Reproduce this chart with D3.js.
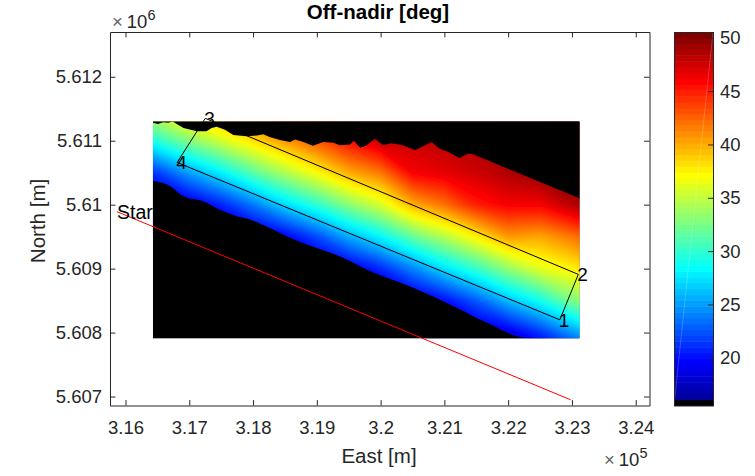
<!DOCTYPE html>
<html>
<head>
<meta charset="utf-8">
<script src="https://cdn.jsdelivr.net/npm/d3@7"></script>
<style>
  html, body { margin: 0; padding: 0; background: #fff; }
  svg { display: block; }
  text { font-family: "Liberation Sans", Arial, sans-serif; }
</style>
</head>
<body>
<div id="chart"></div>
<script>
// off-nadir angle [deg] sampled on a coarse east/north grid, rows run north to south
const gridEast = [3.160, 3.165, 3.170, 3.175, 3.180, 3.185, 3.190, 3.195, 3.200, 3.205, 3.210, 3.215, 3.220, 3.225, 3.230, 3.235];
const gridNorth = [5.6115, 5.6110, 5.6105, 5.6100, 5.6095, 5.6090, 5.6085, 5.6080, 5.6075];
const offNadir = [
  [33.8, 36.5, 39.5, 41.3, 44.0, 46.4, 48.7, 50.0, 50.5, 49.0, 49.0, 49.0, 50.0, 50.0, 50.5, 50.5],
  [26.3, 29.6, 32.7, 35.4, 38.0, 40.5, 42.8, 45.4, 47.8, 47.6, 48.2, 48.6, 50.0, 50.0, 50.5, 50.5],
  [18.9, 21.5, 24.9, 27.8, 31.2, 34.2, 36.9, 39.8, 41.6, 46.0, 46.6, 47.4, 48.5, 49.5, 50.5, 50.5],
  [16.5, 17.2, 18.3, 20.5, 23.5, 26.9, 29.7, 32.9, 35.6, 39.7, 41.9, 44.8, 46.0, 46.0, 48.2, 50.0],
  [16.0, 16.0, 16.0, 16.5, 17.6, 19.1, 21.9, 25.3, 28.1, 31.6, 34.4, 37.3, 40.5, 40.0, 41.6, 44.0],
  [16.0, 16.0, 16.0, 16.0, 16.0, 16.5, 17.3, 18.5, 20.7, 23.9, 27.2, 30.0, 33.2, 36.0, 37.3, 39.2],
  [16.0, 16.0, 16.0, 16.0, 16.0, 16.0, 16.0, 16.0, 16.5, 18.0, 19.7, 22.5, 25.9, 28.8, 32.4, 35.0],
  [16.0, 16.0, 16.0, 16.0, 16.0, 16.0, 16.0, 16.0, 16.0, 16.0, 16.4, 17.6, 18.5, 21.1, 24.5, 27.6],
  [16.0, 16.0, 16.0, 16.0, 16.0, 16.0, 16.0, 16.0, 16.0, 16.0, 16.0, 16.0, 16.0, 17.0, 18.0, 20.3]
];

// northern edge of valid data (terrain shadow), black above it
const topEdgeEast = [3.1643, 3.1651, 3.1659, 3.1667, 3.1674, 3.1679, 3.1691, 3.1712, 3.1727, 3.1735, 3.1743, 3.1756, 3.1769, 3.1790, 3.1806, 3.1816, 3.1826, 3.1842, 3.1858, 3.1866, 3.1879, 3.1894, 3.1910, 3.1926, 3.1936, 3.1952, 3.1958, 3.1968, 3.1977, 3.1991, 3.2004, 3.2017, 3.2035, 3.2054, 3.2080, 3.2093, 3.2103, 3.2124, 3.2137, 3.2145, 3.2312];
const topEdgeNorth = [5.61128, 5.61126, 5.61129, 5.61128, 5.61130, 5.61127, 5.61120, 5.61115, 5.61115, 5.61120, 5.61122, 5.61117, 5.61109, 5.61107, 5.61108, 5.61110, 5.61106, 5.61101, 5.61098, 5.61102, 5.61098, 5.61092, 5.61098, 5.61097, 5.61093, 5.61094, 5.61100, 5.61089, 5.61092, 5.61103, 5.61093, 5.61096, 5.61093, 5.61085, 5.61098, 5.61087, 5.61084, 5.61073, 5.61080, 5.61079, 5.61010];

// southern edge of valid data, black below it
const bottomEdgeEast = [3.1643, 3.1670, 3.1691, 3.1722, 3.1748, 3.1774, 3.1795, 3.1821, 3.1863, 3.1941, 3.1973, 3.2051, 3.2119, 3.2161, 3.2229, 3.2312];
const bottomEdgeNorth = [5.61037, 5.61029, 5.61013, 5.61005, 5.60992, 5.60982, 5.60977, 5.60966, 5.60946, 5.60917, 5.60901, 5.60870, 5.60839, 5.60818, 5.60792, 5.60791];

const imageEast = [3.1643, 3.2312];
const imageNorth = [5.60791, 5.61130];

// flight track and swath corners
const trackEast = [3.15867, 3.22978];
const trackNorth = [5.60989, 5.60695];
const swathEast = [3.2281, 3.2310, 3.1725, 3.1681, 3.2281];
const swathNorth = [5.60820, 5.60891, 5.61135, 5.61066, 5.60820];
const swathLabels = ["1", "2", "3", "4"];

const xTicks = [3.16, 3.17, 3.18, 3.19, 3.20, 3.21, 3.22, 3.23, 3.24];
const xTickLabels = ["3.16", "3.17", "3.18", "3.19", "3.2", "3.21", "3.22", "3.23", "3.24"];
const yTicks = [5.607, 5.608, 5.609, 5.610, 5.611, 5.612];
const yTickLabels = ["5.607", "5.608", "5.609", "5.61", "5.611", "5.612"];
const cTicks = [20, 25, 30, 35, 40, 45, 50];
const cRange = [15.53, 50.54];

const width = 755;
const height = 476;
const fontSize = 18.5;
const labelSize = 20.5;
const textColor = "#262626";

// MATLAB jet, k is the colormap level in 0..63, lowest level black
const jetChannel = t => Math.max(0, Math.min(1, 1.5 - Math.abs(4 * t - 1)));
const jetColor = k => {
  if (k < 1) return "#000";
  const t = (k + 1) / 64;
  return d3.rgb(
    255 * jetChannel(t - 0.5),
    255 * jetChannel(t - 0.25),
    255 * jetChannel(t)
  ).formatHex();
};
const jet = d3.range(64).map(jetColor);

const x = d3.scaleLinear().domain([3.15757, 3.24216]).range([110, 649.5]);
const y = d3.scaleLinear().domain([5.60686, 5.6127]).range([405.5, 32]);
const c = d3.scaleLinear().domain(cRange).range([405.5, 32]);

const svg = d3.select("#chart").append("svg")
    .attr("width", width)
    .attr("height", height);

svg.append("clipPath").attr("id", "image-clip")
  .append("rect")
    .attr("x", x(imageEast[0]))
    .attr("y", y(imageNorth[1]))
    .attr("width", x(imageEast[1]) - x(imageEast[0]))
    .attr("height", y(imageNorth[0]) - y(imageNorth[1]));

const defs = svg.append("defs");
defs.append("filter").attr("id", "soft-field")
    .attr("filterUnits", "userSpaceOnUse")
    .attr("x", 0).attr("y", 0).attr("width", width).attr("height", height)
  .append("feGaussianBlur").attr("stdDeviation", 2);
defs.append("filter").attr("id", "soft-edge")
    .attr("filterUnits", "userSpaceOnUse")
    .attr("x", 0).attr("y", 0).attr("width", width).attr("height", height)
  .append("feGaussianBlur").attr("stdDeviation", 0.7);

const image = svg.append("g").attr("clip-path", "url(#image-clip)");

image.append("rect")
    .attr("x", x(imageEast[0]))
    .attr("y", y(imageNorth[1]))
    .attr("width", x(imageEast[1]) - x(imageEast[0]))
    .attr("height", y(imageNorth[0]) - y(imageNorth[1]))
    .attr("fill", "#000");

// filled contours, several per colormap level so the gradient reads smooth
const levelStep = (cRange[1] - cRange[0]) / 64;
const levels = d3.range(1, 64, 1 / 3);
const contours = d3.contours()
    .size([gridEast.length, gridNorth.length])
    .thresholds(levels.map(k => cRange[0] + k * levelStep))(offNadir.flat());

const eastStep = gridEast[1] - gridEast[0];
const northStep = gridNorth[1] - gridNorth[0];
const gridPath = d3.geoPath(d3.geoTransform({
  point(cx, cy) {
    this.stream.point(
      x(gridEast[0] + (cx - 0.5) * eastStep),
      y(gridNorth[0] + (cy - 0.5) * northStep)
    );
  }
}));

image.append("g")
    .attr("filter", "url(#soft-field)")
  .selectAll("path")
  .data(contours)
  .join("path")
    .attr("d", gridPath)
    .attr("fill", (d, i) => jetColor(levels[i]));

// no data above and below the swath
const masks = image.append("g").attr("filter", "url(#soft-edge)");

masks.append("path")
    .attr("fill", "#000")
    .attr("d", d3.area()
      .x((d, i) => x(topEdgeEast[i]))
      .y0(y(imageNorth[1]) - 10)
      .y1(d => y(d))(topEdgeNorth));

masks.append("path")
    .attr("fill", "#000")
    .attr("d", d3.area()
      .x((d, i) => x(bottomEdgeEast[i]))
      .y0(y(imageNorth[0]) + 10)
      .y1(d => y(d))
      .curve(d3.curveMonotoneX)(bottomEdgeNorth));

const line = d3.line();

svg.append("path")
    .attr("fill", "none")
    .attr("stroke", "#000")
    .attr("stroke-width", 1)
    .attr("d", line(swathEast.map((d, i) => [x(d), y(swathNorth[i])])));

svg.append("path")
    .attr("fill", "none")
    .attr("stroke", "#f00")
    .attr("stroke-width", 1)
    .attr("d", line(trackEast.map((d, i) => [x(d), y(trackNorth[i])])));

svg.append("g")
    .attr("font-size", 19)
    .attr("fill", "#000")
  .selectAll("text")
  .data(swathLabels)
  .join("text")
    .attr("x", (d, i) => x(swathEast[i]) - 1)
    .attr("y", (d, i) => y(swathNorth[i]))
    .attr("dy", "0.36em")
    .text(d => d);

svg.append("text")
    .attr("x", x(trackEast[0]))
    .attr("y", y(trackNorth[0]))
    .attr("dy", "0.36em")
    .attr("font-size", 19.5)
    .attr("fill", "#000")
    .text("Start");

// axes box, ticks point inward on all four sides
const styleAxis = g => {
  g.selectAll("path,line").attr("stroke", textColor);
  g.selectAll("text").attr("fill", textColor).attr("font-size", fontSize).attr("font-family", null);
};

svg.append("g")
    .attr("transform", `translate(0,${y.range()[0]})`)
    .call(d3.axisBottom(x).tickValues(xTicks).tickFormat((d, i) => xTickLabels[i]).tickSizeInner(-5.4).tickSizeOuter(0).tickPadding(15))
    .call(styleAxis);

svg.append("g")
    .attr("transform", `translate(0,${y.range()[1]})`)
    .call(d3.axisTop(x).tickValues(xTicks).tickFormat("").tickSizeInner(-5.4).tickSizeOuter(0))
    .call(styleAxis);

svg.append("g")
    .attr("transform", `translate(${x.range()[0]},0)`)
    .call(d3.axisLeft(y).tickValues(yTicks).tickFormat((d, i) => yTickLabels[i]).tickSizeInner(-5.4).tickSizeOuter(0).tickPadding(8))
    .call(styleAxis);

svg.append("g")
    .attr("transform", `translate(${x.range()[1]},0)`)
    .call(d3.axisRight(y).tickValues(yTicks).tickFormat("").tickSizeInner(-5.4).tickSizeOuter(0))
    .call(styleAxis);

// title and axis labels
svg.append("text")
    .attr("x", 378)
    .attr("y", 19)
    .attr("text-anchor", "middle")
    .attr("font-size", labelSize)
    .attr("font-weight", "bold")
    .attr("fill", "#000")
    .text("Off-nadir [deg]");

svg.append("text")
    .attr("x", 379)
    .attr("y", 463)
    .attr("text-anchor", "middle")
    .attr("font-size", labelSize)
    .attr("fill", textColor)
    .text("East [m]");

svg.append("text")
    .attr("transform", "translate(45,221) rotate(-90)")
    .attr("text-anchor", "middle")
    .attr("font-size", labelSize)
    .attr("fill", textColor)
    .text("North [m]");

// exponent markers
const exponent = (left, base, power) => {
  const t = svg.append("text")
      .attr("x", left)
      .attr("y", base)
      .attr("font-size", fontSize)
      .attr("fill", textColor);
  t.append("tspan").attr("fill", "#666").text("\u00d7");
  t.append("tspan").attr("dx", 4).text("10");
  t.append("tspan").attr("dy", -8).attr("font-size", 14.5).text(power);
};
exponent(112, 28, "6");
exponent(604, 466, "5");

// colorbar
const barLeft = 674;
const barRight = 713;
const bar = svg.append("g");

bar.selectAll("rect")
  .data(jet)
  .join("rect")
    .attr("x", barLeft)
    .attr("width", barRight - barLeft)
    .attr("y", (d, i) => c(cRange[0] + (i + 1) * levelStep))
    .attr("height", c(cRange[0]) - c(cRange[0] + levelStep) + 0.5)
    .attr("fill", d => d);

bar.append("line")
    .attr("x1", barLeft)
    .attr("x2", barRight)
    .attr("y1", c(cRange[0]))
    .attr("y2", c(cRange[1]))
    .attr("stroke", "#fff")
    .attr("stroke-opacity", 0.2);

bar.append("rect")
    .attr("x", barLeft + 0.5)
    .attr("y", c(cRange[1]) + 0.5)
    .attr("width", barRight - barLeft)
    .attr("height", c(cRange[0]) - c(cRange[1]))
    .attr("fill", "none")
    .attr("stroke", textColor);

svg.append("g")
    .attr("transform", `translate(${barRight},0)`)
    .call(d3.axisRight(c).tickValues(cTicks).tickSizeInner(-5).tickSizeOuter(0).tickPadding(7))
    .call(styleAxis)
    .call(g => g.select(".domain").remove());
</script>
</body>
</html>
